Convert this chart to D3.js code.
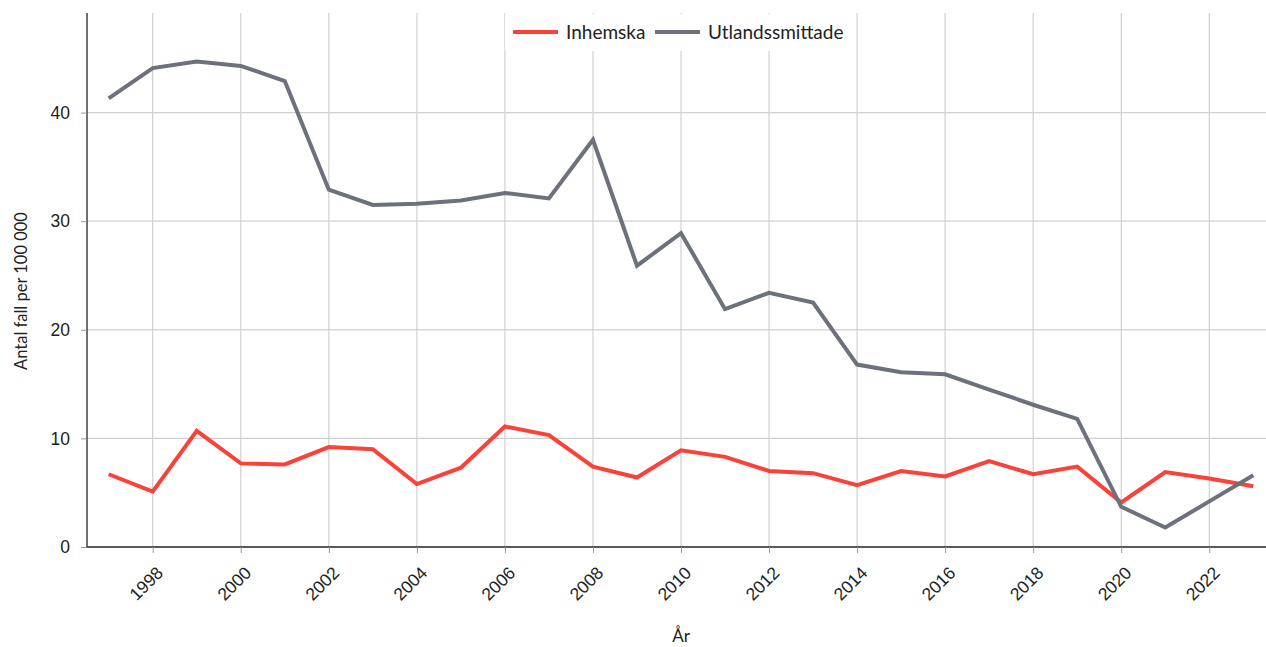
<!DOCTYPE html>
<html>
<head>
<meta charset="utf-8">
<script src="https://cdn.jsdelivr.net/npm/d3@7"></script>
<style>
  body { margin: 0; background: #fff; font-family: Lato, "Open Sans", sans-serif; }
  .tick text { font-size: 17.5px; fill: #222; }
</style>
</head>
<body>
<div id="chart"></div>
<script>
const width = 1266;
const height = 647;

// Data
const years = d3.range(1997, 2024);
const inhemska = [6.7, 5.1, 10.7, 7.7, 7.6, 9.2, 9.0, 5.8, 7.3, 11.1, 10.3, 7.4, 6.4, 8.9,
  8.3, 7.0, 6.8, 5.7, 7.0, 6.5, 7.9, 6.7, 7.4, 4.1, 6.9, 6.3, 5.6];
const utlandssmittade = [41.3, 44.1, 44.7, 44.3, 42.9, 32.9, 31.5, 31.6, 31.9, 32.6, 32.1, 37.5, 25.9, 28.9,
  21.9, 23.4, 22.5, 16.8, 16.1, 15.9, 14.5, 13.1, 11.8, 3.7, 1.8, 4.2, 6.6];
const seriesNames = ["Inhemska", "Utlandssmittade"];
const colors = ["#f8423a", "#6c717b"];
const yTicks = [0, 10, 20, 30, 40];
const xTicks = d3.range(1998, 2023, 2);

const margin = { top: 13, right: 0, bottom: 100, left: 87 };

const svg = d3.select("#chart").append("svg")
  .attr("width", width)
  .attr("height", height);

// 1997 -> 108.7, 2023 -> 1253.3
const x = d3.scaleLinear()
  .domain([1997, 2023])
  .range([108.7, 1253.3]);

const yMax = d3.max(utlandssmittade) * 1.1;
const y = d3.scaleLinear()
  .domain([0, yMax])
  .range([height - margin.bottom, margin.top]);

// grid
svg.append("g")
  .selectAll("line")
  .data(xTicks)
  .join("line")
  .attr("x1", d => x(d)).attr("x2", d => x(d))
  .attr("y1", margin.top).attr("y2", height - margin.bottom)
  .attr("stroke", "#d0d0d0").attr("stroke-width", 1.2);

svg.append("g")
  .selectAll("line")
  .data(yTicks.slice(1))
  .join("line")
  .attr("x1", margin.left).attr("x2", width - margin.right)
  .attr("y1", d => y(d)).attr("y2", d => y(d))
  .attr("stroke", "#cfcfcf").attr("stroke-width", 1.2);

// axes
const xAxis = svg.append("g")
  .attr("transform", `translate(0,${height - margin.bottom})`)
  .call(d3.axisBottom(x).tickValues(xTicks).tickFormat(d3.format("d")).tickSize(6).tickSizeOuter(0));
xAxis.select(".domain")
  .attr("d", `M${margin.left},0H${width - margin.right}`)
  .attr("stroke", "#222").attr("stroke-width", 1.3);
xAxis.selectAll(".tick line").attr("stroke", "#999");
xAxis.selectAll(".tick text")
  .attr("text-anchor", "end")
  .attr("x", 0).attr("y", 0)
  .attr("dx", 0).attr("dy", 0)
  .attr("transform", "translate(11,27) rotate(-45)");

const yAxis = svg.append("g")
  .attr("transform", `translate(${margin.left},0)`)
  .call(d3.axisLeft(y).tickValues(yTicks).tickSize(6).tickSizeOuter(0));
yAxis.select(".domain")
  .attr("d", `M0,${margin.top}V${height - margin.bottom}`)
  .attr("stroke", "#222").attr("stroke-width", 1.3);
yAxis.selectAll(".tick line").attr("stroke", "#999");
yAxis.selectAll(".tick text").attr("dx", "-8px");

// axis titles
svg.append("text")
  .attr("x", x(2010))
  .attr("y", 642)
  .attr("text-anchor", "middle")
  .style("font-size", "17px").style("fill", "#222")
  .text("År");

svg.append("text")
  .attr("transform", "translate(27,291) rotate(-90)")
  .attr("text-anchor", "middle")
  .style("font-size", "16.5px").style("fill", "#222")
  .text("Antal fall per 100 000");

// lines
const line = d3.line()
  .x((d, i) => x(years[i]))
  .y(d => y(d));

[inhemska, utlandssmittade].forEach((vals, i) => {
  svg.append("path")
    .datum(vals)
    .attr("fill", "none")
    .attr("stroke", colors[i])
    .attr("stroke-width", 4)
    .attr("d", line);
});

// legend
const legend = svg.append("g");
legend.append("rect")
  .attr("x", 505).attr("y", 14)
  .attr("width", 350).attr("height", 37)
  .attr("fill", "#fff");

const legendPos = [513, 655];
seriesNames.forEach((name, i) => {
  const g = legend.append("g").attr("transform", `translate(${legendPos[i]},32)`);
  g.append("line")
    .attr("x1", 0).attr("x2", 45)
    .attr("stroke", colors[i]).attr("stroke-width", 4);
  g.append("text")
    .attr("x", 53).attr("y", 6.5)
    .style("font-size", "19px").style("fill", "#222")
    .text(name);
});
</script>
</body>
</html>
